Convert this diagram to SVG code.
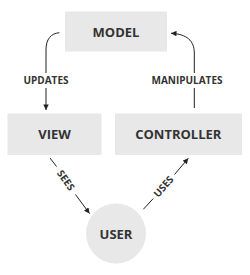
<svg xmlns="http://www.w3.org/2000/svg" width="250" height="275" viewBox="0 0 250 275">
<style>
.box{fill:#e8e8e8;}
.t{font-family:"Open Sans","Liberation Sans",sans-serif;font-weight:bold;font-size:13px;fill:#333;text-anchor:middle;}
.l{font-family:"Open Sans","Liberation Sans",sans-serif;font-weight:bold;font-size:10px;fill:#333;text-anchor:middle;}
.c{fill:none;stroke:#222;stroke-width:1;}
</style>
<defs>
<marker id="ah" viewBox="0 0 10 10" refX="10" refY="5" markerWidth="6.5" markerHeight="5.5" orient="auto" markerUnits="userSpaceOnUse">
<path d="M0,0 L10,5 L0,10 z" fill="#222"/>
</marker>
</defs>
<rect width="250" height="275" fill="#fff"/>
<g id="model"><rect class="box" x="65" y="11.5" width="102" height="40"/><text class="t" x="116" y="36.5">MODEL</text></g>
<g id="view"><rect class="box" x="7.5" y="113.5" width="94" height="41.5"/><text class="t" x="54.5" y="139">VIEW</text></g>
<g id="controller"><rect class="box" x="115" y="113.5" width="127" height="41.5"/><text class="t" x="178.3" y="139">CONTROLLER</text></g>
<g id="user"><circle class="box" cx="116" cy="233.5" r="30"/><text class="t" x="116" y="238.5">USER</text></g>
<g id="connectors">
<path class="c" d="M59.3,32.7 C51,33.5 46,39 46,50 L46,73"/>
<path class="c" d="M46,88 L46,110" marker-end="url(#ah)"/>
<text class="l" x="46" y="83.5">UPDATES</text>
<path class="c" d="M194.3,108 L194.3,88"/>
<path class="c" d="M194.3,73 L194.3,53 C194.3,41 187,34 171,33.3" marker-end="url(#ah)"/>
<text class="l" x="187" y="83.5">MANIPULATES</text>
<path class="c" d="M50,158 L56.5,166.5"/>
<path class="c" d="M75.5,194.5 L89.5,213.5" marker-end="url(#ah)"/>
<text class="l" transform="translate(65.8,180.3) rotate(54.6)" x="0" y="3.5">SEES</text>
<path class="c" d="M143.3,209.3 L153.3,198.5"/>
<path class="c" d="M174.5,174.5 L188.3,158.3" marker-end="url(#ah)"/>
<text class="l" transform="translate(163.6,186.5) rotate(-48.6)" x="0" y="3.5">USES</text>
</g>
</svg>
